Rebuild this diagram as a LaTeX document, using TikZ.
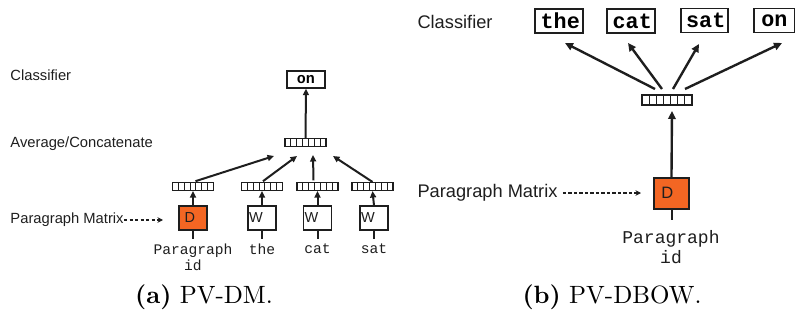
\documentclass[tikz,border=0pt]{standalone}
\usepackage{fontspec}
\newfontfamily\arial{Liberation Sans}
\newfontfamily\cour{Liberation Mono}
\usetikzlibrary{arrows.meta,calc}
\definecolor{dorange}{RGB}{243,102,35}
\definecolor{ink}{RGB}{30,30,30}
\tikzset{
  vec/.style={draw=ink, line width=0.45pt, minimum width=#1, minimum height=3.2pt, inner sep=0pt, fill=white,
    path picture={\foreach \i in {1,...,6}{\draw[ink, line width=0.35pt] ($(path picture bounding box.south west)!\i/7!(path picture bounding box.south east)$) -- ++(0,8pt);}}},
  lbl/.style={font=\arial\fontsize{5.9}{7}\selectfont, inner sep=0pt, text=ink},
  rlbl/.style={font=\arial\fontsize{7.3}{8.5}\selectfont, inner sep=0pt, text=ink},
  lmono/.style={font=\cour\fontsize{5.85}{6.4}\selectfont, inner sep=0pt, align=center, text=ink},
  rmono/.style={font=\cour\fontsize{7.2}{8}\selectfont, inner sep=0pt, align=center, text=ink},
  loutbox/.style={draw=ink, line width=0.55pt, minimum width=15.2pt, minimum height=6.8pt, inner sep=0pt,
    font=\cour\bfseries\fontsize{6}{7}\selectfont},
  routbox/.style={draw=ink, line width=0.6pt, minimum height=9.4pt, inner sep=0pt,
    font=\cour\bfseries\fontsize{8.7}{9}\selectfont},
  lbox/.style={draw=ink, line width=0.5pt, minimum width=11.2pt, minimum height=9.6pt, inner sep=0pt},
  ldbox/.style={lbox, fill=dorange},
  rdbox/.style={draw=ink, line width=0.6pt, minimum width=14pt, minimum height=12.4pt, inner sep=0pt, fill=dorange},
  lboxtxt/.style={font=\arial\fontsize{5.8}{6}\selectfont, inner sep=0pt, text=ink},
  rboxtxt/.style={font=\arial\fontsize{6.6}{7}\selectfont, inner sep=0pt, text=ink},
  larr/.style={draw=ink, line width=0.8pt, -{Triangle[length=2.6pt,width=2.4pt]}},
  rarr/.style={draw=ink, line width=0.95pt, -{Triangle[length=3.2pt,width=3pt]}},
  stem/.style={draw=ink, line width=0.8pt},
  dasharr/.style={draw=ink, line width=0.45pt, dash pattern=on 1.3pt off 0.9pt, -{Stealth[length=2.2pt,width=2.2pt]}},
  captxt/.style={font=\fontsize{10}{12}\selectfont, inner sep=0pt, anchor=base}
}
\begin{document}
\begin{tikzpicture}[x=0.4pt, y=-0.4pt]
\useasboundingbox (0,0) rectangle (795,320);

% ---------------- left panel (a) ----------------
\node[lbl, anchor=west] (lcls) at (10,75) {Classifier};
\node[lbl, anchor=west] (lavg) at (10,144) {Average/Concatenate};
\node[lbl, anchor=west] (lpm) at (10,220) {Paragraph Matrix};
\coordinate (lpmend) at (163,220);
\draw[dasharr] (lpm.east) -- (lpmend);

\node[loutbox] (lon) at (306,79.5) {\raisebox{-0.3pt}{on}};
\node[vec=16.4pt] (lavgv) at (305.5,142.5) {};
\draw[larr] (lavgv.north) -- (lon.south);

% lower vectors
\node[vec=16.4pt] (ldv) at (193,186.5) {};
\node[vec=16.4pt] (lw1v) at (262,186.5) {};
\node[vec=16.4pt] (lw2v) at (317.5,186.5) {};
\node[vec=16.4pt] (lw3v) at (372.5,186.5) {};

\coordinate (lt0) at (274,156);
\coordinate (lt1) at (297,156);
\coordinate (lt2) at (313,155);
\coordinate (lt3) at (333,156);
\draw[larr] ($(ldv.north)+(1pt,0.3pt)$) -- (lt0);
\draw[larr] ($(lw1v.north)+(0.4pt,0.3pt)$) -- (lt1);
\draw[larr] ($(lw2v.north)+(-1.6pt,0.6pt)$) -- (lt2);
\draw[larr] (lw3v.north) -- (lt3);

% boxes
\node[ldbox] (ld) at (193,218) {};
\node[lbox] (lw1) at (262,218) {};
\node[lbox] (lw2) at (317.5,218) {};
\node[lbox] (lw3) at (374,218) {};
\node[lboxtxt, anchor=west] (ldt) at ($(ld.west)+(2.3pt,0.2pt)$) {D};
\node[lboxtxt, anchor=west] (lw1t) at ($(lw1.west)+(0.5pt,0.2pt)$) {W};
\node[lboxtxt, anchor=west] (lw2t) at ($(lw2.west)+(0.5pt,0.2pt)$) {W};
\node[lboxtxt, anchor=west] (lw3t) at ($(lw3.west)+(0.5pt,0.2pt)$) {W};

\draw[larr] (ld.north) -- (ldv.south);
\draw[larr] (lw1.north) -- (lw1v.south);
\draw[larr] (lw2.north) -- (lw2v.south);
\draw[larr] (lw3.north) -- (lw3v.south);

\coordinate (ldb) at (193,239);
\coordinate (lw1b) at (262,239);
\coordinate (lw2b) at (317.5,239);
\coordinate (lw3b) at (374,239);
\draw[stem] (ld.south) -- (ldb);
\draw[stem] (lw1.south) -- (lw1b);
\draw[stem] (lw2.south) -- (lw2b);
\draw[stem] (lw3.south) -- (lw3b);

\node[lmono, anchor=north] (ldin) at (193,243) {Paragraph\\id};
\node[lmono, anchor=north] (lw1in) at (262,243) {the};
\node[lmono, anchor=north] (lw2in) at (317.5,243) {cat};
\node[lmono, anchor=north] (lw3in) at (374,243) {sat};

% ---------------- right panel (b) ----------------
\node[rlbl, anchor=west] (rcls) at (417,22) {Classifier};
\node[rlbl, anchor=west] (rpm) at (417,193) {Paragraph Matrix};
\coordinate (rpmend) at (641,193);
\draw[dasharr] ($(rpm.east)+(2pt,0)$) -- (rpmend);

\node[routbox, minimum width=19.2pt] (rthe) at (559,21) {\hspace*{1pt}\raisebox{-0.6pt}{the}};
\node[routbox, minimum width=19.2pt] (rcat) at (631,21) {\hspace*{1pt}\raisebox{-0.6pt}{cat}};
\node[routbox, minimum width=18.8pt] (rsat) at (704.5,20.5) {\hspace*{1pt}\raisebox{-0.6pt}{sat}};
\node[routbox, minimum width=16.4pt] (ron) at (774.5,20.5) {\raisebox{-0.6pt}{on}};

\node[vec=20pt, minimum height=4pt] (rv) at (667,100) {};

\coordinate (rs0) at (655,89);
\coordinate (rs1) at (662,89);
\coordinate (rs2) at (673,89);
\coordinate (rs3) at (685,89);
\coordinate (rt0) at (565,43);
\coordinate (rt1) at (628,43);
\coordinate (rt2) at (699,44);
\coordinate (rt3) at (782,43);
\draw[rarr] (rs0) -- (rt0);
\draw[rarr] (rs1) -- (rt1);
\draw[rarr] (rs2) -- (rt2);
\draw[rarr] (rs3) -- (rt3);

\node[rdbox] (rd) at (671.5,193.5) {};
\node[rboxtxt, anchor=west] (rdt) at ($(rd.west)+(3pt,0.2pt)$) {D};
\coordinate (rvt) at (672,111);
\draw[rarr] (rd.north) -- (rvt);
\coordinate (rdb) at (671.5,220);
\draw[stem] (rd.south) -- (rdb);
\node[rmono, anchor=north] (rdin) at (671,230) {Paragraph\\id};

% ---------------- captions ----------------
\node[captxt] (capa) at (204,303) {\textbf{(a)} PV-DM.};
\node[captxt] (capb) at (612,303) {\textbf{(b)} PV-DBOW.};
\end{tikzpicture}
\end{document}
